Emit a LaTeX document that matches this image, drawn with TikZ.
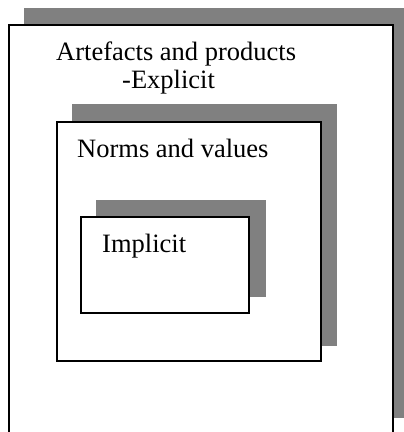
\documentclass[tikz,border=0pt]{standalone}
\usepackage{fontspec}
\setmainfont{Liberation Serif}
\definecolor{shadegray}{RGB}{128,128,128}
\begin{document}
\begin{tikzpicture}[x=1pt,y=-1pt,
    box/.style={draw=black,fill=white,line width=1.4pt},
    shade/.style={fill=shadegray},
    caption/.style={anchor=base west,inner sep=0pt,font=\fontsize{26.5}{30}\selectfont}]
    \useasboundingbox (0,0) rectangle (404,432);
    \clip (0,0) rectangle (404,432);
    % outer layer
    \fill[shade] (24,8) rectangle (410,418);
    \draw[box] (9,25) rectangle (393,436);
    \node[caption] (artefacts) at (56,60) {Artefacts and products};
    \node[caption] (explicit) at (122,88) {-Explicit};
    % middle layer
    \fill[shade] (72,104) rectangle (337,346);
    \draw[box] (57,122) rectangle (321,361);
    \node[caption] (norms) at (77,157) {Norms and values};
    % inner layer
    \fill[shade] (96,200) rectangle (266,297);
    \draw[box] (81,217) rectangle (249,313);
    \node[caption] (implicit) at (102,252) {Implicit};
\end{tikzpicture}
\end{document}
